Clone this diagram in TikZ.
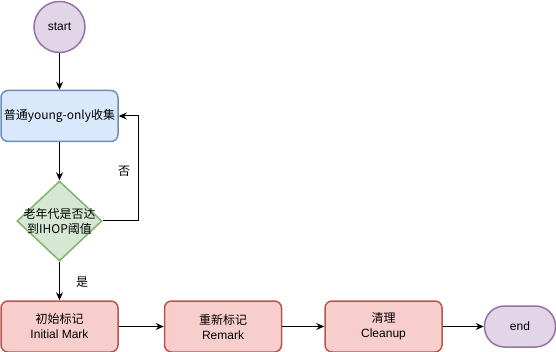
\documentclass[tikz,border=0pt]{standalone}
\usepackage{fontspec}
\setmainfont{Liberation Sans}
\newfontfamily\cjk{Noto Sans CJK SC}
\usetikzlibrary{shapes.geometric,arrows.meta}
\definecolor{pfill}{HTML}{E1D5E7}\definecolor{pdraw}{HTML}{9673A6}
\definecolor{bfill}{HTML}{DAE8FC}\definecolor{bdraw}{HTML}{6C8EBF}
\definecolor{gfill}{HTML}{D5E8D4}\definecolor{gdraw}{HTML}{82B366}
\definecolor{rfill}{HTML}{F8CECC}\definecolor{rdraw}{HTML}{B85450}
\begin{document}
\begin{tikzpicture}[x=1pt,y=-1pt,
  every node/.style={font=\fontsize{12}{15}\selectfont, align=center, line width=1.5pt, inner sep=0pt},
  term/.style={circle, fill=pfill, draw=pdraw, minimum size=51pt},
  endterm/.style={rectangle, rounded corners=20pt, fill=pfill, draw=pdraw, minimum width=71pt, minimum height=41pt},
  procbox/.style={rectangle, rounded corners=7pt, minimum width=117pt, minimum height=51pt},
  bluebox/.style={procbox, fill=bfill, draw=bdraw},
  redbox/.style={procbox, fill=rfill, draw=rdraw},
  decision/.style={diamond, aspect=1.0625, fill=gfill, draw=gdraw, minimum width=85pt, minimum height=80pt},
  conn/.style={line width=1pt, -{Stealth[length=8pt,width=7pt]}},
  lbl/.style={fill=white}
]
\useasboundingbox (0,0) rectangle (556,352);
\node[term] (start) at (59.5,27) {start};
\node[bluebox] (young) at (59.5,116) {\cjk{普通}young-only\cjk{收集}};
\node[decision] (dec) at (59.5,221) {};
\node (dectext) at (dec.center) {\cjk{老年代是否达}\\\cjk{到}IHOP\cjk{阈值}};
\node[redbox] (init) at (59.5,326.5) {\cjk{初始标记}\\Initial Mark};
\node[redbox] (remark) at (223,326.5) {\cjk{重新标记}\\Remark};
\node[redbox] (clean) at (383.5,326.5) {\cjk{清理}\\Cleanup};
\node[endterm] (end) at (520,326.5) {end};
\coordinate (c1) at (138,221);
\coordinate (c2) at (138,116);
\draw[conn] (start) -- (young);
\draw[conn] (young) -- (dec);
\draw[conn] (dec.east) -- (c1) -- (c2) -- (young.east);
\node[lbl] (no) at (124,171) {\cjk{否}};
\draw[conn] (dec) -- (init);
\node[lbl] (yes) at (82,282) {\cjk{是}};
\draw[conn] (init) -- (remark);
\draw[conn] (remark) -- (clean);
\draw[conn] (clean) -- (end);
\end{tikzpicture}
\end{document}
